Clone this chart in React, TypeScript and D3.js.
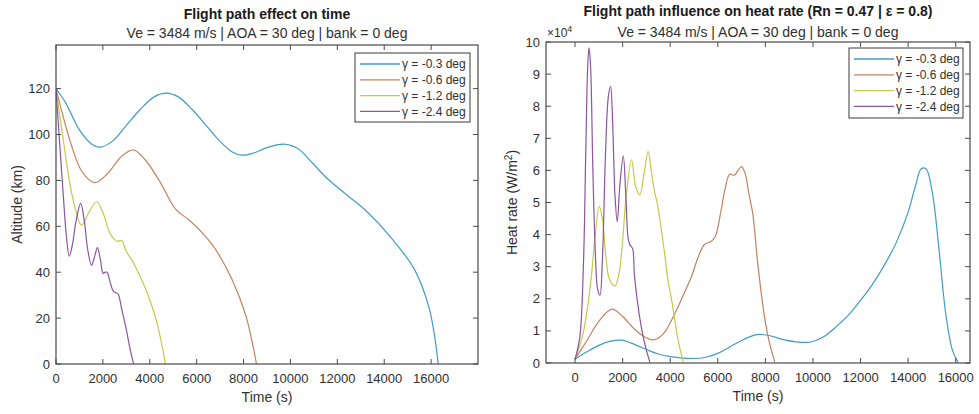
import React from 'react';
import * as d3 from 'd3';

type Pt = [number, number];

const seriesNames = ['γ = -0.3 deg', 'γ = -0.6 deg', 'γ = -1.2 deg', 'γ = -2.4 deg'];
const seriesColors = ['#3f9cc6', '#c4825e', '#c5ca48', '#8c55a0'];

// Altitude (km) vs time (s)
const altitudeG03: Pt[] = [
  [0, 120], [400, 114], [1000, 102], [1500, 96], [1870, 94.5], [2400, 97], [3000, 104], [3600, 111],
  [4200, 116.5], [4700, 118], [5200, 116.5], [5800, 111], [6400, 104], [7000, 97], [7500, 92.5],
  [7900, 91], [8400, 91.8], [9000, 94.3], [9700, 95.8], [10300, 94], [10900, 88], [11500, 81.5],
  [12300, 74.5], [13200, 67], [14300, 55], [15300, 41], [15900, 25], [16150, 12], [16300, 0],
];
const altitudeG06: Pt[] = [
  [0, 120], [300, 108], [700, 94], [1100, 84], [1650, 79], [2200, 83], [2800, 90.5], [3300, 93.3],
  [3800, 89], [4400, 80], [5100, 67.5], [5700, 62.5], [6250, 57], [6800, 50], [7500, 37], [8100, 21],
  [8400, 8], [8550, 0],
];
const altitudeG12: Pt[] = [
  [0, 120], [320, 97], [700, 73], [1090, 60.5], [1400, 66], [1730, 70.7], [2000, 66], [2300, 57],
  [2600, 53.5], [2800, 53.8], [3000, 49], [3280, 44.5], [3500, 40], [3850, 32], [4280, 19],
  [4560, 6], [4660, 0],
];
const altitudeG24: Pt[] = [
  [0, 120], [150, 97], [300, 75], [450, 55], [565, 47], [700, 52], [850, 62], [1050, 70], [1200, 63],
  [1350, 50], [1515, 43], [1650, 47], [1770, 50.7], [1900, 45], [2010, 39.5], [2100, 40], [2180, 40],
  [2300, 36], [2430, 32], [2550, 31], [2650, 30.5], [2800, 24], [3000, 15], [3150, 7], [3310, 0],
];

// Heat rate (x10^4 W/m^2) vs time (s)
const heatG03: Pt[] = [
  [0, 0.12], [500, 0.35], [1000, 0.55], [1500, 0.68], [1957, 0.71], [2500, 0.58], [3000, 0.42],
  [3500, 0.28], [4000, 0.2], [4960, 0.14], [5500, 0.18], [6000, 0.3], [6500, 0.5], [7000, 0.7],
  [7500, 0.86], [7760, 0.89], [8200, 0.85], [8800, 0.72], [9700, 0.64], [10000, 0.67], [10500, 0.84],
  [11000, 1.15], [11500, 1.5], [12000, 1.95], [12500, 2.45], [13000, 3.05], [13500, 3.75],
  [14000, 4.7], [14300, 5.5], [14550, 6.05], [14750, 6.05], [15020, 5.29], [15300, 3.52],
  [15580, 1.54], [15860, 0.4], [16100, 0.02],
];
const heatG06: Pt[] = [
  [0, 0.12], [500, 0.7], [1000, 1.3], [1550, 1.68], [2000, 1.45], [2500, 1.05], [3000, 0.78],
  [3300, 0.72], [3700, 0.9], [4200, 1.55], [4600, 2.2], [4900, 2.7], [5200, 3.35], [5450, 3.7],
  [5700, 3.78], [5900, 3.95], [6100, 4.6], [6300, 5.4], [6500, 5.88], [6700, 5.85], [6850, 6.0],
  [7000, 6.12], [7150, 5.9], [7300, 5.3], [7480, 4.6], [7650, 3.3], [7760, 2.58], [7950, 1.5],
  [8150, 0.7], [8400, 0.02],
];
const heatG12: Pt[] = [
  [0, 0.12], [300, 0.8], [500, 1.6], [700, 2.8], [850, 4.0], [1020, 4.88], [1150, 4.5], [1300, 3.3],
  [1450, 2.6], [1677, 2.4], [1850, 2.8], [2000, 3.8], [2150, 5.2], [2376, 6.33], [2550, 5.5],
  [2725, 5.24], [2900, 5.9], [3075, 6.59], [3200, 6.0], [3350, 5.3], [3450, 5.0], [3600, 4.3],
  [3750, 3.5], [3900, 2.6], [4053, 2.0], [4333, 0.71], [4550, 0.03],
];
const heatG24: Pt[] = [
  [0, 0.12], [200, 0.8], [350, 3], [450, 6.5], [530, 9.2], [587, 9.82], [650, 9.3], [750, 6],
  [850, 3.5], [950, 2.3], [1048, 2.11], [1150, 3.2], [1280, 6.5], [1400, 8.3], [1495, 8.62],
  [1580, 7.5], [1680, 5.2], [1775, 4.4], [1880, 5.5], [2027, 6.45], [2130, 5.3], [2230, 3.9],
  [2306, 3.68], [2418, 3.57], [2500, 2.7], [2700, 1.5], [2900, 0.7], [3145, 0.02],
];

const altitudeSeries = [altitudeG03, altitudeG06, altitudeG12, altitudeG24];
const heatSeries = [heatG03, heatG06, heatG12, heatG24];

const altitudeTicksX = [0, 2000, 4000, 6000, 8000, 10000, 12000, 14000, 16000];
const altitudeTicksY = [0, 20, 40, 60, 80, 100, 120];
const heatTicksX = [0, 2000, 4000, 6000, 8000, 10000, 12000, 14000, 16000];
const heatTicksY = [0, 1, 2, 3, 4, 5, 6, 7, 8, 9, 10];

const FONT = '"Liberation Sans", Arial, Helvetica, sans-serif';
const AXIS = '#4a4a4a';
const TEXT = '#303030';

interface PanelProps {
  left: number; right: number; top: number; bottom: number;
  xDomain: [number, number]; yDomain: [number, number];
  xTicks: number[]; yTicks: number[];
  series: Pt[][];
  title: string; subtitle: string; titleY: number; subtitleY: number;
  yLabel: React.ReactNode; yLabelX: number;
  legend: { x: number; y: number; w: number; h: number };
  exponent?: boolean;
}

function Panel(p: PanelProps) {
  const x = d3.scaleLinear().domain(p.xDomain).range([p.left, p.right]);
  const y = d3.scaleLinear().domain(p.yDomain).range([p.bottom, p.top]);
  const line = d3.line<Pt>().x(d => x(d[0])).y(d => y(d[1])).curve(d3.curveCatmullRom.alpha(0.5));
  const tl = 5;
  const cx = (p.left + p.right) / 2;
  const cy = (p.top + p.bottom) / 2;
  const clipId = 'clip' + Math.round(p.left);
  return (
    <g fontFamily={FONT}>
      <defs>
        <clipPath id={clipId}>
          <rect x={p.left} y={p.top} width={p.right - p.left} height={p.bottom - p.top} />
        </clipPath>
      </defs>
      <text x={cx} y={p.titleY} textAnchor="middle" fontSize={14} fontWeight="bold" fill="#1a1a1a">{p.title}</text>
      <text x={cx} y={p.subtitleY} textAnchor="middle" fontSize={14} fill={TEXT}>{p.subtitle}</text>
      <g clipPath={`url(#${clipId})`}>
        {p.series.map((s, i) => (
          <path key={i} d={line(s) || ''} fill="none" stroke={seriesColors[i]} strokeWidth={1.2} />
        ))}
      </g>
      <rect x={p.left} y={p.top} width={p.right - p.left} height={p.bottom - p.top} fill="none" stroke={AXIS} strokeWidth={1.2} />
      {p.xTicks.map(t => (
        <g key={'x' + t}>
          <line x1={x(t)} x2={x(t)} y1={p.bottom} y2={p.bottom - tl} stroke={AXIS} />
          <line x1={x(t)} x2={x(t)} y1={p.top} y2={p.top + tl} stroke={AXIS} />
          <text x={x(t)} y={p.bottom + 19} textAnchor="middle" fontSize={13} fill={TEXT}>{t}</text>
        </g>
      ))}
      {p.yTicks.map(t => (
        <g key={'y' + t}>
          <line x1={p.left} x2={p.left + tl} y1={y(t)} y2={y(t)} stroke={AXIS} />
          <line x1={p.right} x2={p.right - tl} y1={y(t)} y2={y(t)} stroke={AXIS} />
          <text x={p.left - 6} y={y(t)} dy="0.35em" textAnchor="end" fontSize={13} fill={TEXT}>{t}</text>
        </g>
      ))}
      {p.exponent && (
        <text x={p.left + 1} y={p.top - 5} fontSize={12} fill={TEXT}>
          ×10<tspan dy={-5} fontSize={9}>4</tspan>
        </text>
      )}
      <text x={cx} y={p.bottom + 38} textAnchor="middle" fontSize={14} fill={TEXT}>Time (s)</text>
      <text transform={`translate(${p.yLabelX},${cy}) rotate(-90)`} textAnchor="middle" fontSize={14} fill={TEXT}>{p.yLabel}</text>
      <g>
        <rect x={p.legend.x} y={p.legend.y} width={p.legend.w} height={p.legend.h} fill="#fff" stroke="#3a3a3a" strokeWidth={1} />
        {seriesNames.map((n, i) => {
          const ry = p.legend.y + 11 + i * 15.8;
          return (
            <g key={n}>
              <line x1={p.legend.x + 5} x2={p.legend.x + 45} y1={ry} y2={ry} stroke={seriesColors[i]} strokeWidth={i === 0 ? 1.6 : 1.2} />
              <text x={p.legend.x + 47} y={ry} dy="0.35em" fontSize={12} fill={TEXT}>{n}</text>
            </g>
          );
        })}
      </g>
    </g>
  );
}

export default function App() {
  return (
    <svg width={979} height={414} style={{ position: 'absolute', left: 0, top: 0, background: '#fff' }}>
      <rect width={979} height={414} fill="#fff" />
      <Panel
        left={56} right={478} top={45} bottom={364}
        xDomain={[0, 18000]} yDomain={[0, 139]}
        xTicks={altitudeTicksX} yTicks={altitudeTicksY}
        series={altitudeSeries}
        title="Flight path effect on time"
        subtitle="Ve = 3484 m/s | AOA = 30 deg | bank = 0 deg"
        titleY={19} subtitleY={38}
        yLabel="Altitude (km)" yLabelX={22}
        legend={{ x: 355, y: 53, w: 115, h: 69 }}
      />
      <Panel
        left={546} right={970} top={42} bottom={363}
        xDomain={[-1220, 16600]} yDomain={[0, 10]}
        xTicks={heatTicksX} yTicks={heatTicksY}
        series={heatSeries}
        title="Flight path influence on heat rate (Rn = 0.47 | ε = 0.8)"
        subtitle="Ve = 3484 m/s | AOA = 30 deg | bank = 0 deg"
        titleY={16} subtitleY={37}
        yLabel={<>Heat rate (W/m<tspan dy={-5} fontSize={10}>2</tspan><tspan dy={5}>)</tspan></>}
        yLabelX={517}
        legend={{ x: 849, y: 48, w: 114, h: 70 }}
        exponent
      />
    </svg>
  );
}
